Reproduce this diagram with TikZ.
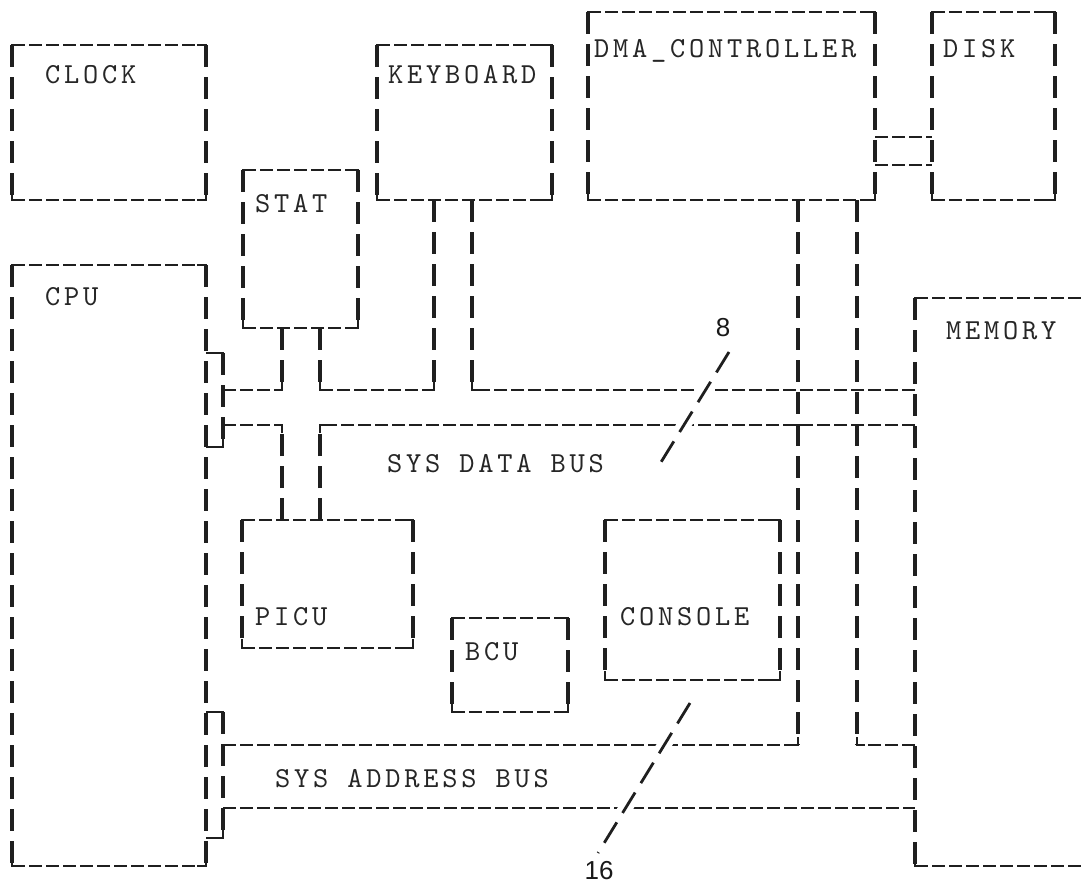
\documentclass[tikz,border=0pt]{standalone}
\usepackage{fontspec}
\newfontfamily\twfont{lmmono10-regular.otf}[LetterSpace=13]
\newfontfamily\numfont{Liberation Sans}
\newcommand{\drawtbox}[1]{%
  \draw[hl] (#1.north west) -- (#1.north east);
  \draw[hl] (#1.south west) -- (#1.south east);
  \draw[vl] (#1.north west) -- (#1.south west);
  \draw[vl] (#1.north east) -- (#1.south east);
  \draw[cn] (#1.north west) ++(0,9) -- ++(0,-9) -- ++(9,0);
  \draw[cn] (#1.north east) ++(0,9) -- ++(0,-9) -- ++(-9,0);
  \draw[cn] (#1.south west) ++(0,-9) -- ++(0,9) -- ++(9,0);
  \draw[cn] (#1.south east) ++(0,-9) -- ++(0,9) -- ++(-9,0);
}
\newcommand{\crn}[3]{\draw[cn] (#1) ++(0,#3) -- ++(0,-#3) -- ++(#2,0);}
\begin{document}
\begin{tikzpicture}[x=1pt,y=-1pt,
  hl/.style={line width=2.6pt, draw=black!88, dash pattern=on 13pt off 4pt},
  vl/.style={line width=3.2pt, draw=black!88, dash pattern=on 22pt off 10pt},
  cn/.style={line width=2.8pt, draw=black!88},
  boxn/.style={draw=none, inner sep=0pt, outer sep=0pt, anchor=north west},
  lbl/.style={font={\twfont\fontsize{29}{29}\selectfont}, text=black!85, inner sep=0pt, anchor=base west},
  num/.style={font={\numfont\fontsize{26}{26}\selectfont}, text=black!90, inner sep=0pt},
  slash/.style={line width=2.8pt, draw=black!88, dash pattern=on 24pt off 11pt},
  halo/.style={line width=14pt, draw=white}]
\useasboundingbox (0,0) rectangle (1082,887);
\fill[white] (0,0) rectangle (1082,887);
\clip (0,0) rectangle (1082,887);

% boxes
\node[boxn, minimum width=194pt, minimum height=155pt] (clock) at (12,45) {};
\node[boxn, minimum width=175pt, minimum height=155pt] (kb) at (377,45) {};
\node[boxn, minimum width=115pt, minimum height=158pt] (stat) at (243,170) {};
\node[boxn, minimum width=287pt, minimum height=188pt] (dma) at (588,12) {};
\node[boxn, minimum width=123pt, minimum height=188pt] (disk) at (932,12) {};
\node[boxn, minimum width=194pt, minimum height=601pt] (cpu) at (12,265) {};
\node[boxn, minimum width=190pt, minimum height=568pt] (mem) at (915,298) {};
\node[boxn, minimum width=171pt, minimum height=128pt] (picu) at (242,520) {};
\node[boxn, minimum width=116pt, minimum height=94pt] (bcu) at (452,618) {};
\node[boxn, minimum width=175pt, minimum height=160pt] (console) at (605,520) {};

\drawtbox{clock}
\drawtbox{kb}
\drawtbox{stat}
\drawtbox{dma}
\drawtbox{disk}
\drawtbox{cpu}
\drawtbox{picu}
\drawtbox{bcu}
\drawtbox{console}
% memory: open to the right
\draw[hl] (mem.north west) -- (mem.north east);
\draw[hl] (mem.south west) -- (mem.south east);
\draw[vl] (mem.north west) -- (mem.south west);
\draw[cn] (mem.north west) ++(0,9) -- ++(0,-9) -- ++(9,0);
\draw[cn] (mem.south west) ++(0,-9) -- ++(0,9) -- ++(9,0);

% junction coordinates
\coordinate (bd1) at (223,353);
\coordinate (bd2) at (223,447);
\coordinate (du0) at (223,390);
\coordinate (dl0) at (223,425);
\coordinate (s1u) at (282,390);
\coordinate (s1l) at (282,425);
\coordinate (s2u) at (320,390);
\coordinate (s2l) at (320,425);
\coordinate (k1u) at (434,390);
\coordinate (k2u) at (472,390);
\coordinate (dm1) at (798,745);
\coordinate (dm2) at (857,745);
\coordinate (ba1) at (223,712);
\coordinate (ba2) at (223,838);
\coordinate (au0) at (223,745);
\coordinate (al0) at (223,808);
\coordinate (dd1) at (875,137);
\coordinate (dd2) at (875,165);

% CPU data bracket
\draw[vl] (bd1) -- (bd2);
\draw[cn] (cpu.east |- bd1) -- (bd1) -- ++(0,8);
\draw[cn] (cpu.east |- bd2) -- (bd2) -- ++(0,-8);
% upper data rail
\draw[hl] (du0) -- (s1u);
\draw[vl] (stat.south -| s1u) -- (s1u);
\crn{s1u}{-8}{-8}
\draw[vl] (stat.south -| s2u) -- (s2u);
\draw[hl] (s2u) -- (k1u);
\crn{s2u}{8}{-8}
\draw[vl] (kb.south -| k1u) -- (k1u);
\crn{k1u}{-8}{-8}
\draw[vl] (kb.south -| k2u) -- (k2u);
\draw[hl] (mem.west |- k2u) -- (k2u);
\crn{k2u}{8}{-8}
% lower data rail
\draw[hl] (dl0) -- (s1l);
\draw[vl] (picu.north -| s1l) -- (s1l);
\crn{s1l}{-8}{8}
\draw[hl] (mem.west |- s2l) -- (s2l);
\draw[vl] (picu.north -| s2l) -- (s2l);
\crn{s2l}{8}{8}
% DMA to address bus
\draw[vl] (dma.south -| dm1) -- (dm1);
\draw[hl] (au0) -- (dm1);
\crn{dm1}{-8}{-8}
\draw[vl] (dma.south -| dm2) -- (dm2);
\draw[hl] (mem.west |- dm2) -- (dm2);
\crn{dm2}{8}{-8}
% CPU address bracket
\draw[vl] (ba1) -- (ba2);
\draw[cn] (cpu.east |- ba1) -- (ba1) -- ++(0,8);
\draw[cn] (cpu.east |- ba2) -- (ba2) -- ++(0,-8);
\draw[hl] (al0) -- (mem.west |- al0);
% DMA - DISK
\draw[hl] (dd1) -- (disk.west |- dd1);
\draw[hl] (dd2) -- (disk.west |- dd2);

% bus width slashes
\coordinate (e8a) at (729,352);
\coordinate (e8b) at (658,467);
\coordinate (e16a) at (690,703);
\coordinate (e16b) at (598,853);
\draw[halo] (e8a) -- (e8b);
\draw[halo] (e16a) -- (e16b);
\draw[slash] (e8a) -- (e8b);
\draw[slash] (e16a) -- (e16b);
\node[num] (n8) at (723,328) {8};
\node[num] (n16) at (599,871) {16};

% labels
\node[lbl] (tclock) at (45,83) {CLOCK};
\node[lbl] (tkb) at (388,83) {KEYBOARD};
\node[lbl] (tdma) at (594,57) {DMA\_CONTROLLER};
\node[lbl] (tdisk) at (943,57) {DISK};
\node[lbl] (tstat) at (255,212) {STAT};
\node[lbl] (tcpu) at (45,305) {CPU};
\node[lbl] (tmem) at (946,339) {MEMORY};
\node[lbl] (tpicu) at (255,625) {PICU};
\node[lbl] (tbcu) at (465,660) {BCU};
\node[lbl] (tcons) at (620,625) {CONSOLE};
\node[lbl] (tdata) at (387,472) {SYS DATA BUS};
\node[lbl] (taddr) at (275,787) {SYS ADDRESS BUS};
\end{tikzpicture}
\end{document}
